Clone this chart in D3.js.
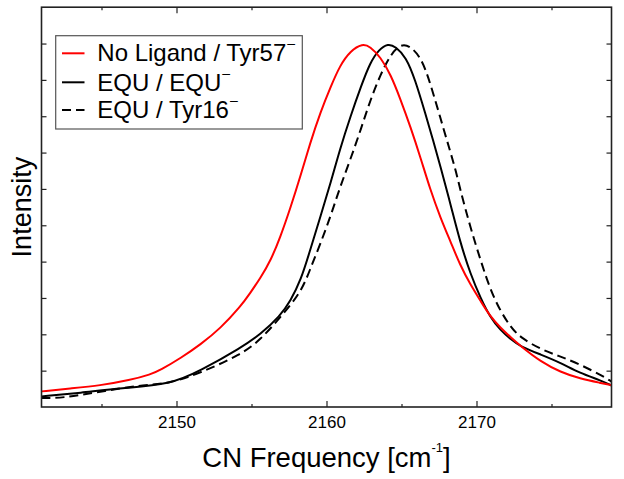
<!DOCTYPE html>
<html><head><meta charset="utf-8">
<script src="https://cdn.jsdelivr.net/npm/d3@7"></script>
<style>
body{margin:0;background:#fff}
svg{display:block}
text{font-family:"Liberation Sans",Arial,Helvetica,sans-serif;fill:#000}
</style>
</head><body><svg id="c" width="624" height="479"></svg>
<script>
// ---- data ----
const freqNoLig = [2141.0,2142.9,2144.9,2146.9,2148.3,2148.9,2150.3,2151.6,2152.9,2154.3,2154.9,2155.6,2156.3,2156.9,2157.6,2158.3,2158.9,2159.6,2160.3,2160.9,2161.6,2162.4,2162.9,2163.6,2164.3,2164.9,2165.6,2166.3,2166.9,2167.6,2168.3,2168.9,2169.6,2170.3,2170.9,2171.6,2172.3,2172.9,2174.3,2175.6,2176.9,2178.3,2179.0];
const intNoLig  = [0.043,0.051,0.059,0.074,0.090,0.101,0.135,0.172,0.215,0.278,0.313,0.355,0.405,0.465,0.548,0.640,0.725,0.812,0.883,0.940,0.980,1.000,0.992,0.963,0.913,0.850,0.771,0.682,0.600,0.520,0.452,0.391,0.336,0.290,0.250,0.218,0.191,0.169,0.124,0.096,0.078,0.066,0.060];

const freqEqu = [2141.0,2143.6,2146.3,2149.6,2151.6,2154.3,2155.6,2156.9,2157.6,2158.3,2158.9,2159.6,2160.3,2160.9,2161.6,2162.3,2162.9,2163.5,2164.1,2164.6,2165.3,2165.9,2166.6,2167.1,2167.6,2168.3,2168.9,2169.6,2170.3,2170.9,2171.6,2172.3,2172.9,2174.3,2175.6,2176.9,2178.3,2179.0];
const intEqu  = [0.029,0.039,0.052,0.062,0.100,0.163,0.200,0.250,0.292,0.350,0.430,0.525,0.620,0.710,0.800,0.882,0.947,0.984,1.000,0.992,0.963,0.902,0.806,0.735,0.661,0.553,0.455,0.365,0.297,0.248,0.211,0.186,0.167,0.144,0.122,0.093,0.073,0.059];

const freqTyr16 = [2141.0,2142.3,2144.9,2147.6,2149.6,2151.6,2154.3,2155.6,2156.9,2158.3,2158.9,2159.6,2160.3,2160.9,2161.6,2162.3,2162.9,2163.6,2164.3,2165.0,2165.6,2166.3,2166.9,2167.8,2168.6,2168.9,2169.6,2170.3,2170.9,2171.6,2172.3,2172.9,2174.3,2175.6,2176.9,2178.3,2179.0];
const intTyr16  = [0.025,0.024,0.042,0.060,0.065,0.094,0.144,0.185,0.246,0.315,0.378,0.450,0.528,0.605,0.682,0.765,0.842,0.915,0.972,1.000,0.992,0.962,0.895,0.765,0.655,0.600,0.493,0.400,0.325,0.263,0.219,0.192,0.158,0.139,0.117,0.088,0.070];

const seriesNames = ["No Ligand / Tyr57", "EQU / EQU", "EQU / Tyr16"];
const seriesColors = ["#ff0000", "#000000", "#000000"];
const seriesDash = [null, null, "9,5"];
const xMajorTicks = [2150, 2160, 2170];
const xMinorTicks = [2145, 2155, 2165, 2175];
const yTicks = [0.1,0.2,0.3,0.4,0.5,0.6,0.7,0.8,0.9,1.0];
const xTitle = "CN Frequency [cm";
const yTitle = "Intensity";

// ---- layout ----
const L = 41.5, R = 611.5, T = 7.2, B = 407;
const svg = d3.select("#c");
const x = d3.scaleLinear().domain([2141, 2179]).range([L, R]);
const y = d3.scaleLinear().domain([0, 1.1]).range([B, T]);

svg.append("defs").append("clipPath").attr("id","clip")
  .append("rect").attr("x",L).attr("y",T).attr("width",R-L).attr("height",B-T);

const series = [
  freqNoLig.map((f,i)=>[f,intNoLig[i]]),
  freqEqu.map((f,i)=>[f,intEqu[i]]),
  freqTyr16.map((f,i)=>[f,intTyr16[i]])
];

const line = d3.line().x(d=>x(d[0])).y(d=>y(d[1])).curve(d3.curveBasis);
const g = svg.append("g").attr("clip-path","url(#clip)");
[2,1,0].forEach(i=>{
  g.append("path").datum(series[i]).attr("d",line)
   .attr("fill","none").attr("stroke",seriesColors[i]).attr("stroke-width",2)
   .attr("stroke-dasharray",seriesDash[i]).attr("stroke-linejoin","round");
});

// ---- axes ----
function styleAxis(sel){
  sel.select(".domain").remove();
  sel.selectAll(".tick line").attr("stroke","#222").attr("stroke-width",1.2);
}
const xb = svg.append("g").attr("transform",`translate(0,${B})`)
  .call(d3.axisBottom(x).tickValues(xMajorTicks).tickSizeInner(-6).tickSizeOuter(0).tickPadding(9).tickFormat(d3.format("d")));
styleAxis(xb);
xb.selectAll("text").attr("font-size",17).attr("font-family","Liberation Sans, Arial, sans-serif").attr("fill","#000");
const xbm = svg.append("g").attr("transform",`translate(0,${B})`)
  .call(d3.axisBottom(x).tickValues(xMinorTicks).tickSizeInner(-3).tickSizeOuter(0).tickFormat(""));
styleAxis(xbm);
const xt = svg.append("g").attr("transform",`translate(0,${T})`)
  .call(d3.axisTop(x).tickValues(xMajorTicks).tickSizeInner(-6).tickSizeOuter(0).tickFormat(""));
styleAxis(xt);
const xtm = svg.append("g").attr("transform",`translate(0,${T})`)
  .call(d3.axisTop(x).tickValues(xMinorTicks).tickSizeInner(-3).tickSizeOuter(0).tickFormat(""));
styleAxis(xtm);
const yl = svg.append("g").attr("transform",`translate(${L},0)`)
  .call(d3.axisLeft(y).tickValues(yTicks).tickSizeInner(-5).tickSizeOuter(0).tickFormat(""));
styleAxis(yl);
const yr = svg.append("g").attr("transform",`translate(${R},0)`)
  .call(d3.axisRight(y).tickValues(yTicks).tickSizeInner(-5).tickSizeOuter(0).tickFormat(""));
styleAxis(yr);

// frame
svg.append("rect").attr("x",L).attr("y",T).attr("width",R-L).attr("height",B-T)
  .attr("fill","none").attr("stroke","#222").attr("stroke-width",1.6);

// axis titles
const xtTxt = svg.append("text").attr("x",(L+R)/2).attr("y",466.5)
  .attr("text-anchor","middle").attr("font-size",27.5);
xtTxt.append("tspan").text(xTitle);
xtTxt.append("tspan").attr("font-size",13).attr("dy",-15).text("-1");
xtTxt.append("tspan").attr("dy",15).text("]");

svg.append("text").attr("transform",`translate(30.5,${(T+B)/2}) rotate(-90)`)
  .attr("text-anchor","middle").attr("font-size",27).text(yTitle);

// ---- legend ----
const lg = svg.append("g");
lg.append("rect").attr("x",55.7).attr("y",35.7).attr("width",246.6).attr("height",93.3)
  .attr("fill","#fff").attr("stroke","#555").attr("stroke-width",1.2);
const rowY = [61, 90.7, 118.3];
const lineY = [53.3, 82.3, 110];
seriesNames.forEach((name,i)=>{
  lg.append("line").attr("x1",62).attr("x2",84.5).attr("y1",lineY[i]).attr("y2",lineY[i])
    .attr("stroke",seriesColors[i]).attr("stroke-width",2).attr("stroke-dasharray",seriesDash[i]);
  const t = lg.append("text").attr("x",97.3).attr("y",rowY[i]).attr("font-size",24);
  t.append("tspan").text(name);
  t.append("tspan").attr("font-size",14).attr("dy",-13).attr("dx",1).text("\u2013");
});
</script>
</body></html>
